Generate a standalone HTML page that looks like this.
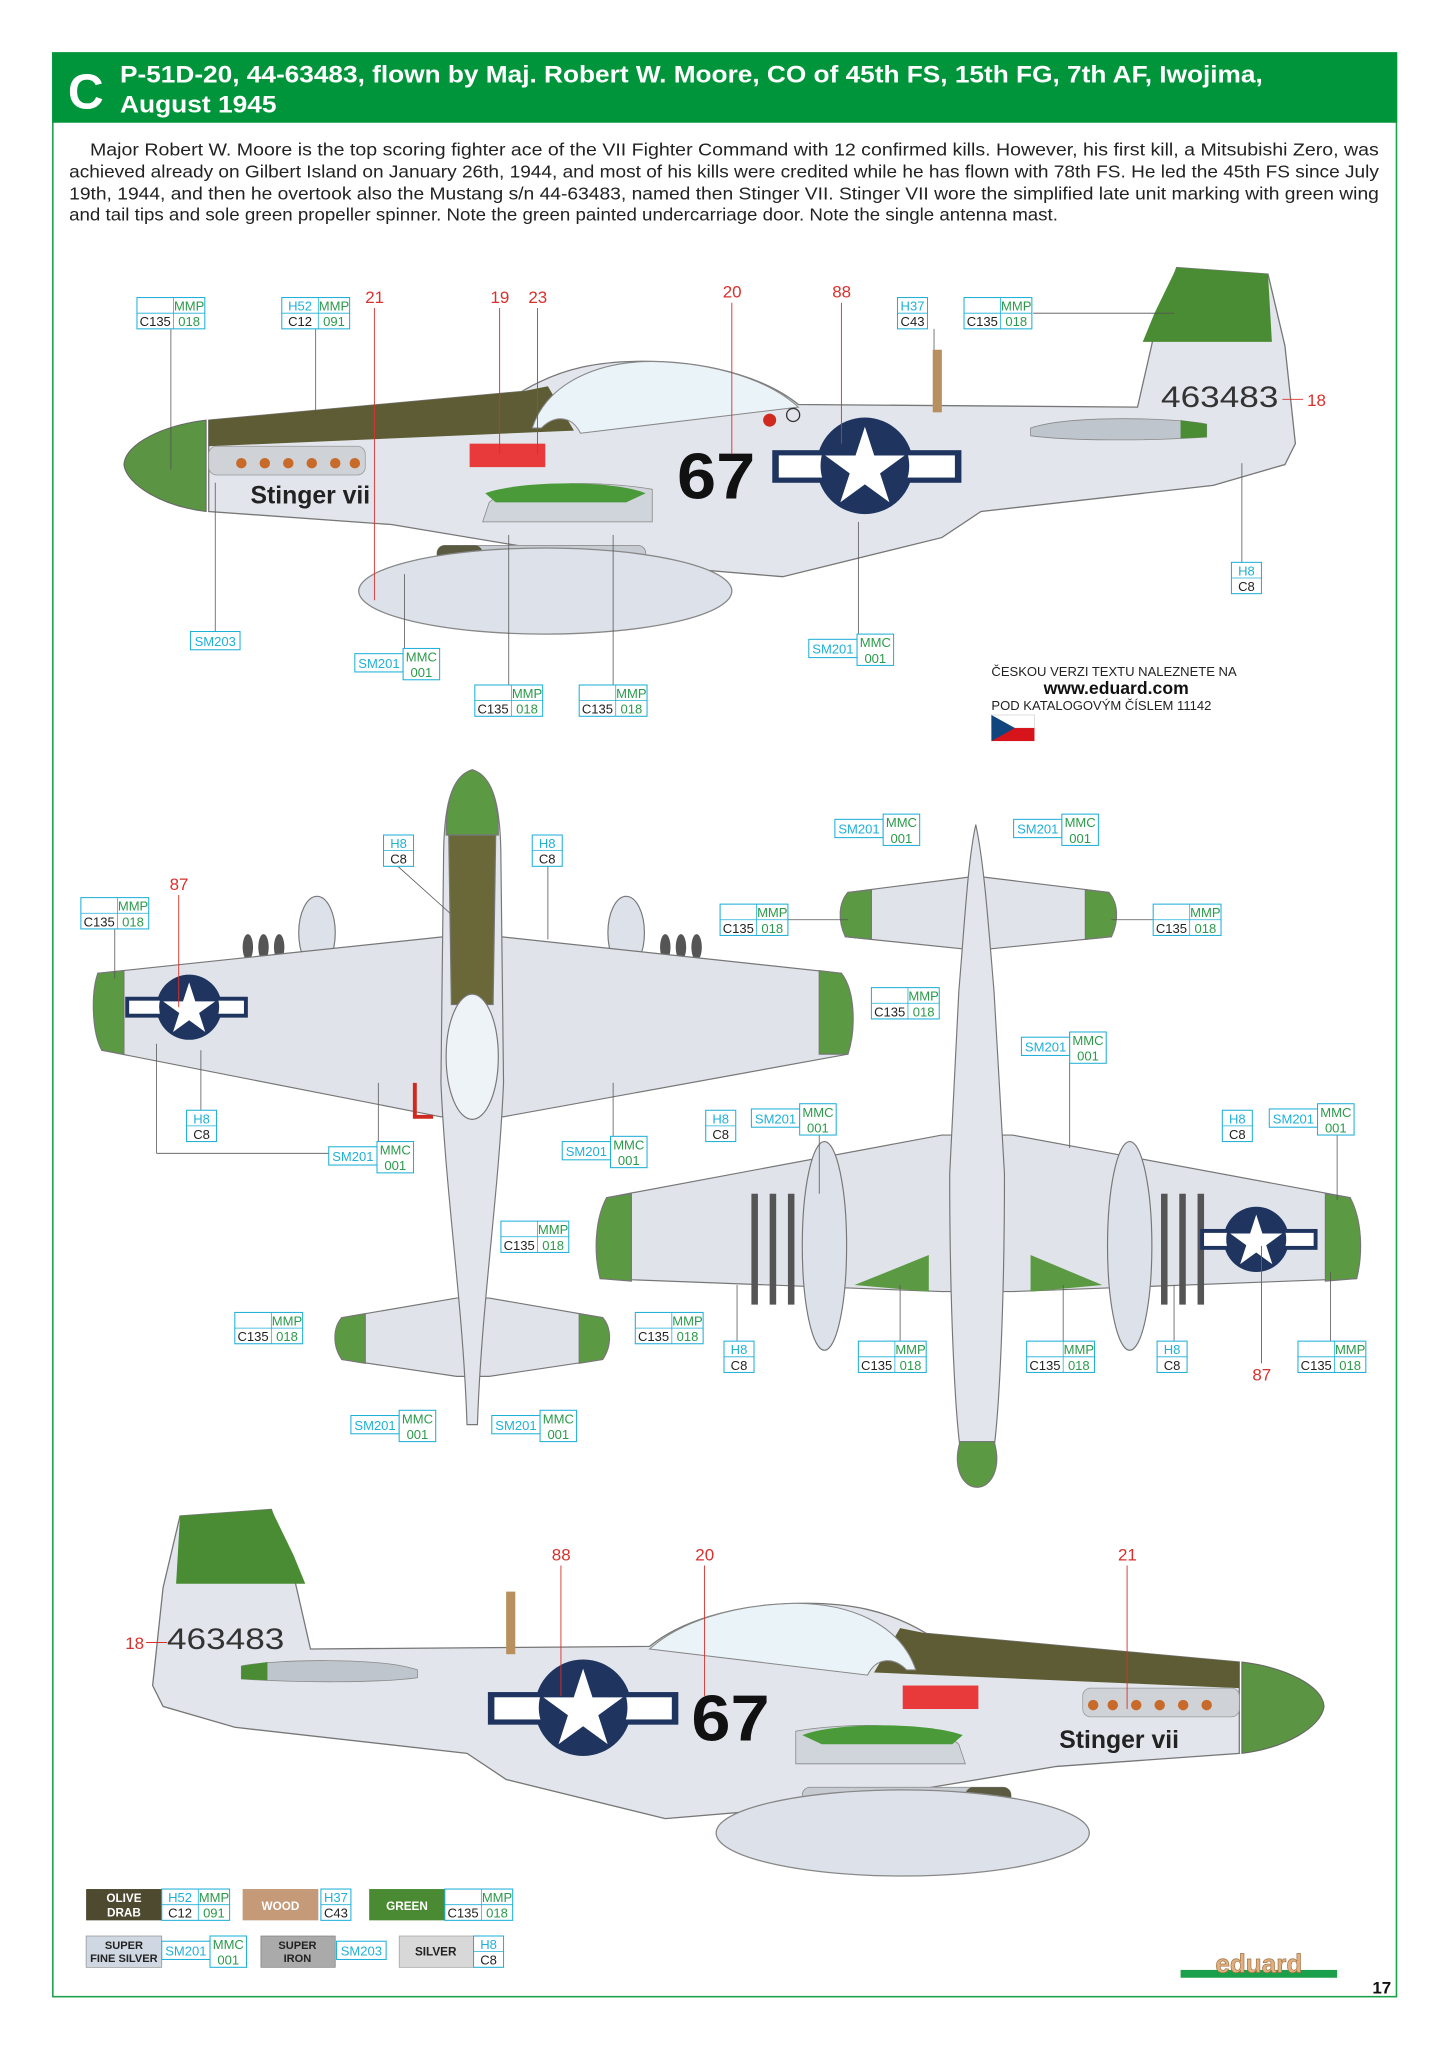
<!DOCTYPE html>
<html><head><meta charset="utf-8"><style>
html,body{margin:0;padding:0;background:#fff}
svg{display:block}
text{font-family:"Liberation Sans",sans-serif}
</style></head><body>
<svg id="s" width="1448" height="2047" viewBox="0 0 1110 1569" xmlns="http://www.w3.org/2000/svg">
<defs>
<g id="star"><polygon points="0,-1 0.2245,-0.309 0.951,-0.309 0.363,0.118 0.588,0.809 0,0.382 -0.588,0.809 -0.363,0.118 -0.951,-0.309 -0.2245,-0.309" fill="#fff"/></g>
<g id="side">
 <path d="M160,322 L400,300 C430,282 460,276 500,277 C550,278 590,292 612,310 L872,312 L885,255 L902,205 L972,210 L985,265 L993,340 L985,356 L930,372 L752,392 L722,412 L600,442 L480,432 L300,402 L160,392 Z" fill="#e2e6ec" stroke="#777" stroke-width="1"/>
 <path d="M902,205 L972,210 L975,262 L876,262 L885,240 Z" fill="#4a8c34"/>
 <path d="M160,322 L400,300 L420,296 L440,330 L160,342 Z" fill="#5e5c34"/>
 <path d="M408,328 C420,292 460,277 500,277 C550,278 590,292 612,312 L445,332 C438,318 425,318 415,328 Z" fill="#eaf3f8" stroke="#888" stroke-width="0.8"/>
 <path d="M158,322 C125,326 96,340 95,356 C97,372 125,388 158,392 Z" fill="#5b9443" stroke="#666" stroke-width="0.8"/>
 <rect x="160" y="342" width="120" height="22" rx="6" fill="#cfd3d8" stroke="#999" stroke-width="0.6"/>
 <g fill="#c86a2a"><circle cx="185" cy="355" r="4"/><circle cx="203" cy="355" r="4"/><circle cx="221" cy="355" r="4"/><circle cx="239" cy="355" r="4"/><circle cx="257" cy="355" r="4"/><circle cx="272" cy="355" r="4"/></g>
 <path d="M790,328 C820,318 900,320 925,325 L925,335 C880,338 820,338 790,334Z" fill="#bfc5cc" stroke="#888" stroke-width="0.6"/>
 <path d="M905,322 L925,325 L925,335 L905,336Z" fill="#4a8c34"/>
 <path d="M375,385 C395,368 460,368 500,375 L500,400 L370,400Z" fill="#d0d5dc" stroke="#888" stroke-width="0.6"/>
 <path d="M372,378 C400,368 470,368 495,378 L480,385 L380,385Z" fill="#4a9a3a"/>
 <rect x="335" y="418" width="160" height="14" rx="6" fill="#c6cbd2" stroke="#888" stroke-width="0.6"/>
 <rect x="335" y="418" width="35" height="14" rx="6" fill="#5a5a40"/>
 <ellipse cx="418" cy="453" rx="143" ry="33" fill="#dde2ea" stroke="#888" stroke-width="1"/>
 <rect x="360" y="340" width="58" height="18" fill="#e83a3a"/>
 <rect x="715" y="268" width="7" height="48" fill="#b89060"/>
</g>
</defs>
<rect x="40.5" y="40.5" width="1030" height="1490" fill="none" stroke="#1aa04a" stroke-width="1.2"/>
<rect x="40" y="40" width="1031" height="54" fill="#00953a"/>
<text x="52" y="83" font-size="38" font-weight="bold" fill="#fff">C</text>
<text x="92" y="63" font-size="18.5" font-weight="bold" fill="#fff" textLength="876" lengthAdjust="spacingAndGlyphs">P-51D-20, 44-63483, flown by Maj. Robert W. Moore, CO of 45th FS, 15th FG, 7th AF, Iwojima,</text>
<text x="92" y="86" font-size="18.5" font-weight="bold" fill="#fff" textLength="120" lengthAdjust="spacingAndGlyphs">August 1945</text>
<g font-size="13.4" fill="#222">
<text x="69" y="119" textLength="988" lengthAdjust="spacingAndGlyphs">Major Robert W. Moore is the top scoring fighter ace of the VII Fighter Command with 12 confirmed kills. However, his first kill, a Mitsubishi Zero, was</text>
<text x="53" y="136" textLength="1004" lengthAdjust="spacingAndGlyphs">achieved already on Gilbert Island on January 26th, 1944, and most of his kills were credited while he has flown with 78th FS. He led the 45th FS since July</text>
<text x="53" y="153" textLength="1004" lengthAdjust="spacingAndGlyphs">19th, 1944, and then he overtook also the Mustang  s/n 44-63483, named then Stinger VII. Stinger VII wore the simplified late unit marking with green wing</text>
<text x="53" y="169" textLength="758" lengthAdjust="spacingAndGlyphs">and tail tips and sole green propeller spinner. Note the green painted undercarriage door. Note the single antenna mast.</text>
</g>

<!-- side view 1 -->
<use href="#side"/>
<circle cx="663" cy="357" r="37" fill="#1f3560"/>
<rect x="592" y="345" width="145" height="25" fill="#1f3560"/><rect x="597" y="349" width="135" height="17" fill="#fff"/>
<circle cx="663" cy="357" r="34" fill="#1f3560"/>
<use href="#star" transform="translate(663,359) scale(32)"/>
<text x="519" y="382" font-size="50" font-weight="bold" fill="#111" textLength="60" lengthAdjust="spacingAndGlyphs">67</text>
<text x="890" y="312" font-size="23" fill="#333" textLength="90" lengthAdjust="spacingAndGlyphs">463483</text>
<text x="192" y="386" font-size="19" font-family="Liberation Serif" font-weight="bold" fill="#222">Stinger vii</text>
<circle cx="590" cy="322" r="5" fill="#d02a20"/><circle cx="608" cy="318" r="5" fill="none" stroke="#333"/>

<!-- side view 2 mirrored -->
<use href="#side" transform="translate(1110,952) scale(-1,1)"/>
<circle cx="447" cy="1309" r="37" fill="#1f3560"/>
<rect x="374" y="1297" width="146" height="25" fill="#1f3560"/><rect x="379" y="1301" width="136" height="17" fill="#fff"/>
<circle cx="447" cy="1309" r="34" fill="#1f3560"/>
<use href="#star" transform="translate(447,1311) scale(32)"/>
<text x="530" y="1334" font-size="50" font-weight="bold" fill="#111" textLength="60" lengthAdjust="spacingAndGlyphs">67</text>
<text x="128" y="1264" font-size="23" fill="#333" textLength="90" lengthAdjust="spacingAndGlyphs">463483</text>
<text x="812" y="1340" font-size="19" font-family="Liberation Serif" font-weight="bold" fill="#222">Stinger vii</text>

<!-- top view -->
<g stroke="#777" stroke-width="0.9">
<ellipse cx="243" cy="715" rx="14" ry="28" fill="#dde2ea"/><ellipse cx="480" cy="715" rx="14" ry="28" fill="#dde2ea"/>
<g fill="#555" stroke="none"><ellipse cx="190" cy="726" rx="4" ry="10"/><ellipse cx="202" cy="726" rx="4" ry="10"/><ellipse cx="214" cy="726" rx="4" ry="10"/><ellipse cx="510" cy="726" rx="4" ry="10"/><ellipse cx="522" cy="726" rx="4" ry="10"/><ellipse cx="534" cy="726" rx="4" ry="10"/></g>
<polygon points="75,746 340,718 384,718 645,746 650,808 386,856 338,856 78,805" fill="#e0e4ea"/>
<path d="M75,746 L95,744 L95,808 L78,805 C70,790 70,760 75,746Z" fill="#5b9a43"/>
<path d="M645,746 L628,744 L628,808 L650,808 C656,790 656,760 645,746Z" fill="#5b9a43"/>
<polygon points="262,1010 350,995 375,995 462,1010 462,1042 375,1055 350,1055 262,1042" fill="#e0e4ea"/>
<path d="M262,1010 L280,1007 L280,1045 L262,1042 C255,1032 255,1018 262,1010Z" fill="#5b9a43"/>
<path d="M462,1010 L444,1007 L444,1045 L462,1042 C469,1032 469,1018 462,1010Z" fill="#5b9a43"/>
<path d="M362,590 C345,595 340,620 340,660 L338,830 C342,920 355,1000 358,1092 L366,1092 C369,1000 382,920 386,830 L384,660 C384,620 379,595 362,590Z" fill="#e2e6ec"/>
<path d="M362,590 C345,595 342,620 342,640 L382,640 C382,620 379,595 362,590Z" fill="#5b9a43"/>
<path d="M344,640 L380,640 L378,770 L346,770Z" fill="#6a6838"/>
<ellipse cx="362" cy="810" rx="20" ry="48" fill="#eef3f7"/>
</g>
<circle cx="145" cy="772" r="25" fill="#1f3560"/><rect x="96" y="764" width="94" height="16" fill="#1f3560"/><rect x="99" y="767" width="88" height="10" fill="#fff"/><circle cx="145" cy="772" r="23" fill="#1f3560"/><use href="#star" transform="translate(145,774) scale(21)"/>
<path d="M318,830 L318,856 L332,856" stroke="#d02a20" stroke-width="3" fill="none"/>

<!-- bottom view -->
<g stroke="#777" stroke-width="0.9">
<polygon points="650,684 745,672 752,672 850,684 852,718 752,728 745,728 648,718" fill="#e0e4ea"/>
<path d="M650,684 L668,682 L668,720 L648,718 C642,705 643,692 650,684Z" fill="#5b9a43"/>
<path d="M850,684 L832,682 L832,720 L852,718 C858,705 857,692 850,684Z" fill="#5b9a43"/>
<polygon points="465,918 722,870 776,870 1035,918 1040,980 776,990 722,990 460,980" fill="#e0e4ea"/>
<path d="M465,918 L484,915 L484,982 L460,980 C455,960 456,935 465,918Z" fill="#5b9a43"/>
<path d="M1035,918 L1016,915 L1016,982 L1040,980 C1045,960 1044,935 1035,918Z" fill="#5b9a43"/>
<path d="M748,632 C742,660 740,700 735,760 L728,900 C728,1000 732,1080 736,1110 L762,1110 C766,1080 770,1000 770,900 L762,760 C757,700 754,660 748,632Z" fill="#e2e6ec"/>
<path d="M736,1105 L762,1105 C768,1125 760,1140 749,1140 C738,1140 730,1125 736,1105Z" fill="#5b9a43"/>
<polygon points="655,985 712,962 712,990" fill="#5b9a43" stroke="none"/>
<polygon points="845,985 790,962 790,990" fill="#5b9a43" stroke="none"/>
<ellipse cx="632" cy="955" rx="17" ry="80" fill="#dde2ea"/><ellipse cx="866" cy="955" rx="17" ry="80" fill="#dde2ea"/>
<g fill="#555" stroke="none"><rect x="576" y="915" width="5" height="85"/><rect x="590" y="915" width="5" height="85"/><rect x="604" y="915" width="5" height="85"/><rect x="890" y="915" width="5" height="85"/><rect x="904" y="915" width="5" height="85"/><rect x="918" y="915" width="5" height="85"/></g>
</g>
<circle cx="963" cy="950" r="25" fill="#1f3560"/><rect x="920" y="942" width="90" height="16" fill="#1f3560"/><rect x="923" y="945" width="84" height="10" fill="#fff"/><circle cx="963" cy="950" r="23" fill="#1f3560"/><use href="#star" transform="translate(963,952) scale(21)"/>

<!-- red numbers -->
<g font-size="13" fill="#d9302c">
<text x="280" y="232">21</text><text x="376" y="232">19</text><text x="405" y="232">23</text><text x="554" y="228">20</text><text x="638" y="228">88</text><text x="1002" y="311">18</text>
<text x="130" y="682">87</text><text x="960" y="1058">87</text>
<text x="423" y="1196">88</text><text x="533" y="1196">20</text><text x="857" y="1196">21</text><text x="96" y="1264">18</text>
</g>
<g stroke="#d9302c" stroke-width="0.7">
<line x1="287" y1="236" x2="287" y2="460"/><line x1="383" y1="236" x2="383" y2="348"/><line x1="412" y1="236" x2="412" y2="348"/><line x1="561" y1="232" x2="561" y2="348"/><line x1="645" y1="232" x2="645" y2="340"/><line x1="983" y1="306" x2="999" y2="306"/>
<line x1="137" y1="686" x2="137" y2="772"/><line x1="967" y1="1045" x2="967" y2="955"/>
<line x1="430" y1="1200" x2="430" y2="1300"/><line x1="540" y1="1200" x2="540" y2="1300"/><line x1="864" y1="1200" x2="864" y2="1310"/><line x1="112" y1="1259" x2="128" y2="1259"/>
</g>
<g stroke="#555" stroke-width="0.6">
<line x1="131" y1="252" x2="131" y2="360"/><line x1="242" y1="252" x2="242" y2="320"/><line x1="165" y1="484" x2="165" y2="370"/><line x1="792" y1="240" x2="900" y2="240"/><line x1="952" y1="431" x2="952" y2="355"/><line x1="658" y1="486" x2="658" y2="400"/><line x1="310" y1="497" x2="310" y2="440"/><line x1="390" y1="525" x2="390" y2="410"/><line x1="470" y1="525" x2="470" y2="410"/><line x1="716" y1="252" x2="716" y2="268"/>
<line x1="88" y1="712" x2="88" y2="750"/><line x1="305" y1="664" x2="345" y2="700"/><line x1="420" y1="664" x2="420" y2="720"/><line x1="154" y1="851" x2="154" y2="805"/><line x1="252" y1="884" x2="120" y2="884"/><line x1="120" y1="884" x2="120" y2="800"/><line x1="290" y1="875" x2="290" y2="830"/><line x1="470" y1="871" x2="470" y2="830"/>
<line x1="552" y1="705" x2="650" y2="705"/><line x1="852" y1="705" x2="884" y2="705"/><line x1="820" y1="791" x2="820" y2="880"/><line x1="628" y1="870" x2="628" y2="915"/><line x1="1025" y1="870" x2="1025" y2="920"/><line x1="1020" y1="1028" x2="1020" y2="975"/><line x1="900" y1="1028" x2="900" y2="985"/><line x1="690" y1="1028" x2="690" y2="985"/><line x1="815" y1="1028" x2="815" y2="985"/><line x1="565" y1="1028" x2="565" y2="985"/>
</g>

<text x="760" y="518" font-size="10" fill="#222">ČESKOU VERZI TEXTU NALEZNETE NA</text>
<text x="800" y="532" font-size="13.5" font-weight="bold" fill="#111">www.eduard.com</text>
<text x="760" y="544" font-size="10" fill="#222">POD KATALOGOVÝM ČÍSLEM 11142</text>
<rect x="760" y="548" width="33" height="10" fill="#fff" stroke="#ccc" stroke-width="0.5"/><rect x="760" y="558" width="33" height="10" fill="#d7141a"/><polygon points="760,548 778,558 760,568" fill="#11457e"/>

<!-- legend swatches -->
<rect x="66" y="1448" width="58" height="24" fill="#4e4a30"/><text x="95" y="1458" font-size="9" font-weight="bold" fill="#fff" text-anchor="middle">OLIVE</text><text x="95" y="1469" font-size="9" font-weight="bold" fill="#fff" text-anchor="middle">DRAB</text>
<rect x="186" y="1448" width="58" height="24" fill="#c49a78"/><text x="215" y="1464" font-size="9" font-weight="bold" fill="#fff" text-anchor="middle">WOOD</text>
<rect x="283" y="1448" width="58" height="24" fill="#4a8a32"/><text x="312" y="1464" font-size="9" font-weight="bold" fill="#fff" text-anchor="middle">GREEN</text>
<rect x="66" y="1484" width="58" height="24" fill="#cfd8e2" stroke="#888" stroke-width="0.5"/><text x="95" y="1494" font-size="8.5" font-weight="bold" fill="#222" text-anchor="middle">SUPER</text><text x="95" y="1504" font-size="8.5" font-weight="bold" fill="#222" text-anchor="middle">FINE SILVER</text>
<rect x="200" y="1484" width="57" height="24" fill="#aaa" stroke="#777" stroke-width="0.5"/><text x="228" y="1494" font-size="8.5" font-weight="bold" fill="#222" text-anchor="middle">SUPER</text><text x="228" y="1504" font-size="8.5" font-weight="bold" fill="#222" text-anchor="middle">IRON</text>
<rect x="306" y="1484" width="57" height="24" fill="#d8d8d8" stroke="#999" stroke-width="0.5"/><text x="334" y="1499" font-size="9" font-weight="bold" fill="#222" text-anchor="middle">SILVER</text>
<rect x="905" y="1510" width="120" height="6" fill="#1aa04a"/>
<text x="965" y="1512" font-size="20" font-weight="bold" fill="#e0b080" stroke="#a07040" stroke-width="0.5" text-anchor="middle">eduard</text>
<text x="1052" y="1528" font-size="13" font-weight="bold" fill="#111">17</text>
<g id="labels"></g>
</svg>
<script>
var C='#1fb0d8',G='#2a9a4a',o='';
function t(x,y,s,c){return '<text x="'+x+'" y="'+y+'" font-size="10" fill="'+c+'" text-anchor="middle">'+s+'</text>';}
function r(x,y,w,h){return '<rect x="'+x+'" y="'+y+'" width="'+w+'" height="'+h+'" fill="#fff" stroke="'+C+'" stroke-width="0.8"/>';}
function L4(x,y,a,b,c,d){o+=r(x,y,52,24)+'<line x1="'+x+'" y1="'+(y+12)+'" x2="'+(x+52)+'" y2="'+(y+12)+'" stroke="'+C+'" stroke-width="0.6"/><line x1="'+(x+28)+'" y1="'+y+'" x2="'+(x+28)+'" y2="'+(y+24)+'" stroke="'+C+'" stroke-width="0.6"/>'+t(x+14,y+10,a,C)+t(x+40,y+10,b,G)+t(x+14,y+22,c,'#222')+t(x+40,y+22,d,G);}
function L2(x,y,a,b){o+=r(x,y,23,24)+'<line x1="'+x+'" y1="'+(y+12)+'" x2="'+(x+23)+'" y2="'+(y+12)+'" stroke="'+C+'" stroke-width="0.6"/>'+t(x+11.5,y+10,a,C)+t(x+11.5,y+22,b,'#222');}
function S1(x,y,s){o+=r(x,y,38,14)+t(x+19,y+11,s,C);}
function SM(x,y){o+=r(x,y+4,37,14)+t(x+18.5,y+15,'SM201',C)+r(x+37,y,28,24)+t(x+51,y+10,'MMC',G)+t(x+51,y+22,'001',G);}
L4(105,228,'','MMP','C135','018');L4(216,228,'H52','MMP','C12','091');L2(688,228,'H37','C43');L4(739,228,'','MMP','C135','018');
L2(944,431,'H8','C8');S1(146,484,'SM203');SM(272,497);SM(620,486);L4(364,525,'','MMP','C135','018');L4(444,525,'','MMP','C135','018');
L4(62,688,'','MMP','C135','018');L2(294,640,'H8','C8');L2(408,640,'H8','C8');L2(143,851,'H8','C8');SM(252,875);SM(431,871);
L4(384,936,'','MMP','C135','018');L4(180,1006,'','MMP','C135','018');L4(487,1006,'','MMP','C135','018');SM(269,1081);SM(377,1081);
SM(640,624);SM(777,624);L4(552,693,'','MMP','C135','018');L4(884,693,'','MMP','C135','018');L4(668,757,'','MMP','C135','018');SM(783,791);
L2(541,851,'H8','C8');SM(576,846);L2(937,851,'H8','C8');SM(973,846);
L2(555,1028,'H8','C8');L4(658,1028,'','MMP','C135','018');L4(787,1028,'','MMP','C135','018');L2(887,1028,'H8','C8');L4(995,1028,'','MMP','C135','018');
L4(124,1448,'H52','MMP','C12','091');L2(246,1448,'H37','C43');L4(341,1448,'','MMP','C135','018');
SM(124,1484);S1(258,1488,'SM203');L2(363,1484,'H8','C8');
document.getElementById('labels').innerHTML=o;
</script>
</body></html>
